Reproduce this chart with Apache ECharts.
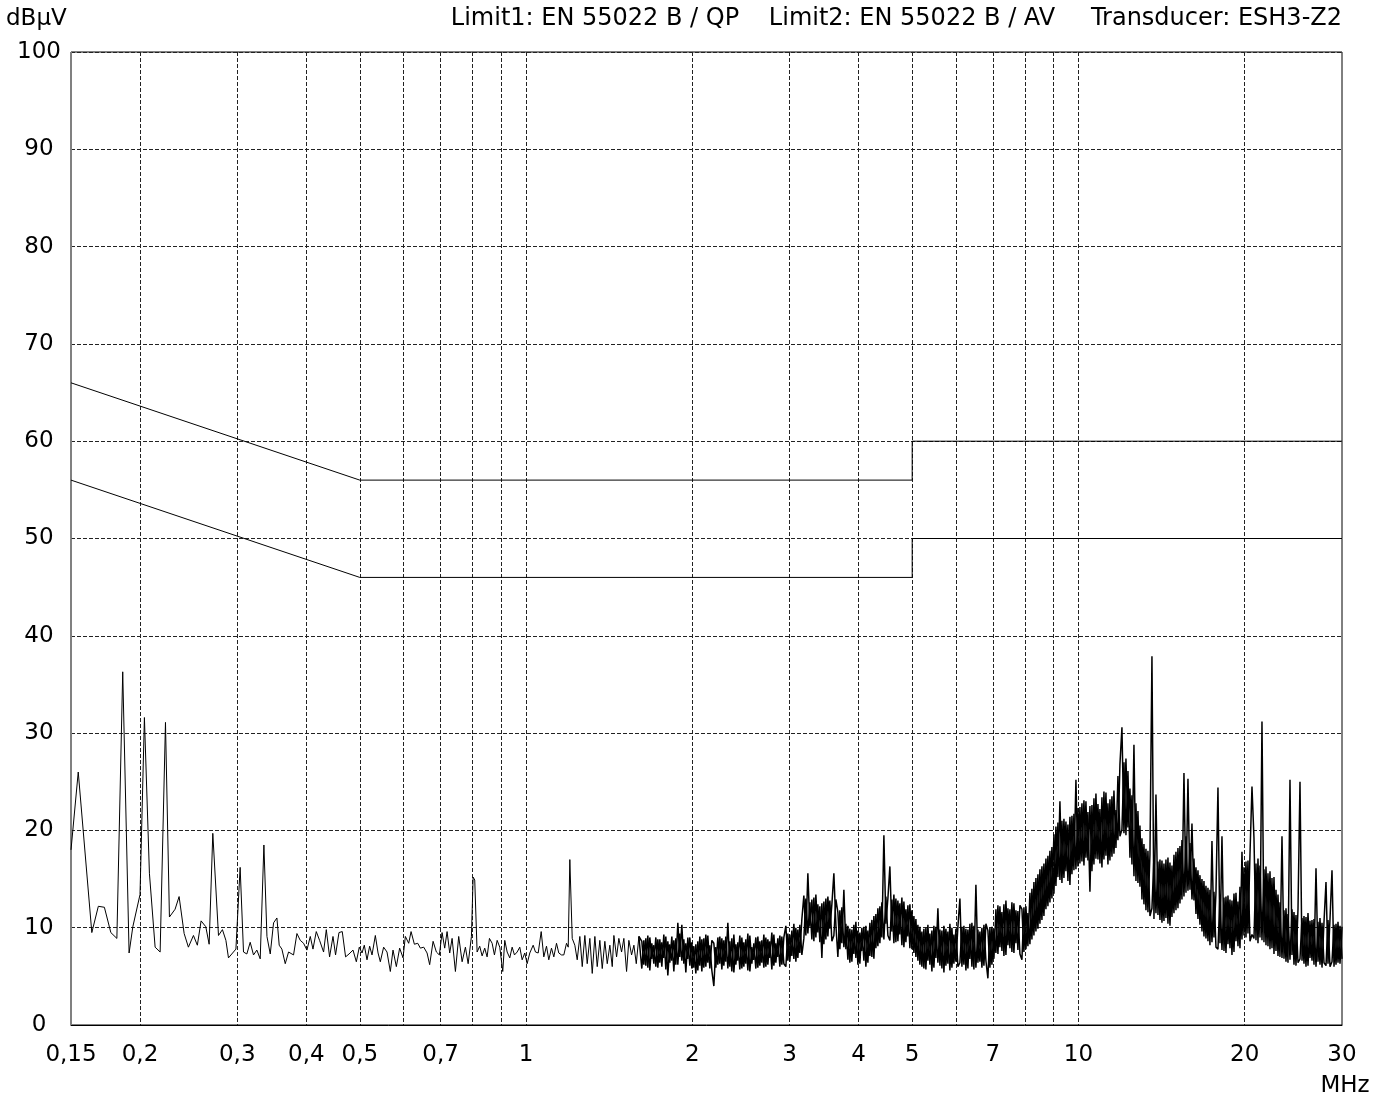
<!DOCTYPE html>
<html>
<head>
<meta charset="utf-8">
<script src="https://cdn.jsdelivr.net/npm/echarts@6/dist/echarts.min.js"></script>
<style>
html,body{margin:0;padding:0;background:#fff;}
#chart{width:1387px;height:1099px;}
</style>
</head>
<body>
<div id="chart"></div>
<script>
// ---- axis ticks / labels ----
const xLabelValues = [0.15, 0.2, 0.3, 0.4, 0.5, 0.7, 1, 2, 3, 4, 5, 7, 10, 20, 30];
const xGridValues = [0.2, 0.3, 0.4, 0.5, 0.6, 0.7, 0.8, 0.9, 1, 2, 3, 4, 5, 6, 7, 8, 9, 10, 20];
const yMin = 0, yMax = 100, yStep = 10;

// ---- header texts ----
const unitY = 'dBµV';
const unitX = 'MHz';
const headerTexts = ['Limit1: EN 55022 B / QP', 'Limit2: EN 55022 B / AV', 'Transducer: ESH3-Z2'];

// ---- limit lines [MHz, dBµV] ----
const limitQP = [[0.15, 66], [0.5, 56], [5, 56], [5, 60], [30, 60]];
const limitAV = [[0.15, 56], [0.5, 46], [5, 46], [5, 50], [30, 50]];

// ---- measured trace, low band (individual sweep points) ----
const lowSweepMHz = [
0.1500,0.1546,0.1636,0.1681,0.1724,0.1771,0.1816,0.1861,0.1911,0.1941,
0.2000,0.2037,0.2080,0.2130,0.2175,0.2224,0.2261,0.2315,0.2354,0.2404,
0.2447,0.2499,0.2540,0.2580,0.2631,0.2668,0.2709,0.2774,0.2820,0.2861,
0.2892,0.2983,0.3036,0.3079,0.3122,0.3166,0.3210,0.3255,0.3301,0.3352,
0.3395,0.3442,0.3490,0.3539,0.3573,0.3613,0.3664,0.3715,0.3793,0.3847,
0.3901,0.3955,0.4011,0.4067,0.4113,0.4170,0.4228,0.4299,0.4348,0.4408,
0.4471,0.4519,0.4584,0.4647,0.4712,0.4780,0.4860,0.4928,0.4989,
0.5046,0.5094,0.5152,0.5209,0.5261,0.5334,0.5395,0.5446,0.5522,0.5600,
0.5678,0.5742,0.5822,0.5903,0.5987,0.6045,0.6130,0.6191,0.6277,0.6365,
0.6436,0.6526,0.6618,0.6690,0.6786,0.6880,0.6966,0.7045,0.7123,0.7194,
0.7273,0.7346,0.7448,0.7551,0.7659,0.7765,0.7854,0.7962,0.8019,0.8073,
0.8153,0.8242,0.8325,0.8416,0.8500,0.8583,0.8680,0.8764,0.8863,0.8960,
0.9073,0.9149,0.9241,0.9342,0.9435,0.9527,0.9634,0.9740,0.9837,0.9945,
1.0044,1.0155,1.0300,1.0399,1.0517,1.0650,1.0766,1.0888,1.0992,1.1117,
1.1225,1.1352,1.1460,1.1591,1.1703,1.1836,1.1920,1.2000,1.2120,1.2253,
1.2375,1.2511,1.2637,1.2775,1.2902,1.3044,1.3175,1.3320,1.3452,1.3599,
1.3736,1.3886,1.4025,1.4179,1.4321,1.4419,1.4581,1.4721,1.4888,1.5032,
1.5202,1.5348,1.5523,1.5674,1.5830,1.6003
];
const lowSweepLevel = [
18.0,26.0,9.5,12.2,12.1,9.5,8.9,36.3,7.4,10.1,
13.4,31.6,15.6,8.0,7.5,31.1,11.1,11.9,13.2,9.4,
8.0,9.2,8.2,10.7,10.1,8.3,19.7,9.2,9.8,8.7,
6.9,7.8,16.2,7.5,7.3,8.5,7.2,7.7,6.8,18.5,
9.1,7.3,10.5,11.0,8.2,7.8,6.3,7.5,7.2,9.4,
8.7,8.4,7.7,9.1,7.8,9.6,8.7,7.5,9.8,7.0,
9.1,7.2,9.5,9.6,7.0,7.3,7.7,6.5,8.0,
7.4,8.2,6.7,8.1,7.2,9.2,7.4,6.5,8.0,7.5,
5.5,7.7,6.0,7.9,6.9,9.1,8.4,9.6,8.3,8.4,
7.9,8.0,7.4,6.2,8.6,7.5,7.2,9.5,7.9,9.6,
7.4,8.9,5.5,9.1,6.5,8.0,6.3,9.1,15.2,14.9,
7.5,8.1,7.1,7.9,7.0,8.9,8.4,7.2,8.7,8.0,
5.5,8.7,7.5,6.9,8.0,7.2,7.5,8.0,6.7,7.4,
6.3,7.4,8.2,7.5,7.4,9.6,7.0,8.1,6.7,7.9,
7.0,8.4,7.4,7.2,7.2,8.4,8.0,17.0,8.9,8.2,
6.7,9.1,6.0,9.2,6.3,8.9,5.3,9.1,6.0,8.7,
5.8,8.6,6.3,8.2,6.0,9.2,7.0,8.9,7.5,8.9,
5.5,8.7,7.2,8.2,6.3,9.1
];

// ---- measured trace, dense band: two interleaved readings on a log-spaced grid ----
const denseStartMHz = 1.62;
const denseStopMHz = 30;
const denseLevel = [
8.6,6.2,8.9,5.9,9.0,6.8,8.2,6.0,8.8,6.4,
8.5,6.9,9.1,5.1,8.3,6.6,8.7,6.2,10.5,7.0,
10.3,6.3,8.4,6.8,9.0,5.8,8.1,5.3,8.6,6.1,
8.8,5.9,9.3,6.4,8.2,5.6,4.0,8.0,6.2,9.1,
5.7,8.7,6.5,10.5,6.0,8.9,5.4,8.3,6.6,9.2,
5.8,8.5,6.3,9.4,5.5,8.0,6.7,9.0,5.9,8.6,
6.4,9.3,6.0,8.8,6.9,9.5,6.1,8.4,7.0,9.2,
6.2,9.0,10.2,6.6,9.3,7.1,10.4,6.5,9.8,7.4,
10.9,13.3,9.2,15.6,10.1,12.9,8.6,13.4,9.5,12.2,
6.9,12.7,8.8,13.2,9.9,12.4,15.6,10.3,7.0,11.8,
8.4,13.9,7.8,10.2,6.4,9.8,7.3,10.6,6.2,9.5,
7.6,10.1,6.0,9.7,7.1,10.8,6.8,11.4,8.1,12.2,
9.0,19.5,10.4,13.0,16.3,9.6,13.4,8.5,12.8,9.3,
13.1,8.0,11.9,9.1,12.4,7.8,11.2,7.0,10.3,6.2,
9.6,5.8,10.0,6.6,9.4,5.5,10.2,6.9,12.0,6.1,
9.7,5.4,9.9,6.3,10.4,5.9,9.3,6.5,10.1,13.0,
6.0,10.2,5.6,9.8,6.8,10.5,5.7,14.4,6.4,9.6,
5.9,10.3,6.6,4.8,10.0,6.2,9.9,7.4,12.3,8.0,
11.6,7.1,12.8,8.2,11.9,7.5,12.5,8.4,11.7,7.3,
6.7,12.1,7.8,11.5,8.3,14.0,9.2,15.1,9.9,16.0,
10.8,16.6,11.9,17.4,12.6,18.3,13.5,20.4,15.2,23.0,
14.6,21.2,15.8,20.6,14.4,21.5,15.9,25.2,16.3,22.4,
16.8,23.1,17.2,21.9,13.7,22.6,16.5,23.8,17.0,22.2,
16.2,24.0,17.4,22.8,16.9,23.5,17.6,22.1,19.0,26.8,
30.6,19.7,27.4,20.3,24.3,16.5,28.8,14.8,22.0,14.2,
19.2,12.4,18.1,11.6,17.5,37.9,10.9,23.7,11.3,17.0,
10.5,16.6,11.0,17.2,10.2,16.4,11.5,17.8,12.0,18.4,
12.9,25.9,13.6,25.3,13.9,20.7,12.8,16.2,10.9,15.4,
9.6,14.8,8.9,14.1,8.2,18.9,9.0,13.6,24.4,8.4,
19.4,7.6,13.2,8.3,12.9,7.2,13.5,8.6,12.7,7.9,
17.8,9.2,16.8,9.4,17.5,24.5,19.2,8.7,17.1,9.0,
31.2,8.5,16.3,8.1,15.8,7.9,15.2,7.6,13.4,7.0,
19.4,6.8,12.0,6.4,25.2,7.2,11.6,6.1,11.9,25.0,
6.6,11.2,6.0,11.5,6.9,10.8,6.2,16.1,6.5,11.0,
5.9,10.6,14.7,6.3,10.9,15.9,6.0,10.4,6.4,10.2,
6.8
];
const denseLevel2 = [
5.8,8.7,6.1,9.2,5.6,8.4,6.3,9.0,5.9,8.8,
6.0,9.3,5.7,8.6,6.4,9.1,5.5,8.9,6.2,9.4,
6.6,8.8,5.4,9.0,6.1,8.5,5.9,8.3,5.6,9.1,
5.5,8.9,6.0,9.2,5.8,8.7,8.4,5.9,9.0,6.3,
8.9,6.1,9.1,5.8,8.6,5.5,9.3,6.2,8.5,5.7,
9.0,6.0,8.8,5.6,9.2,6.3,8.4,5.8,9.1,6.1,
8.7,5.9,9.0,6.2,8.6,5.7,9.3,6.4,8.9,6.0,
9.1,6.3,6.0,9.4,6.5,9.7,6.8,10.0,6.9,10.3,
7.2,8.9,13.0,9.4,12.6,8.8,13.1,9.0,12.4,8.5,
12.5,8.3,13.0,9.1,12.8,8.6,9.2,12.9,11.6,7.8,
12.1,8.0,10.4,6.7,9.9,6.5,10.3,6.9,9.7,6.3,
10.0,6.6,10.2,6.4,10.5,7.0,11.2,7.9,12.0,8.4,
12.6,8.8,13.2,9.2,8.7,12.9,8.4,13.0,8.6,12.5,
8.2,12.7,8.5,12.3,7.9,11.8,7.4,10.9,6.6,10.1,
6.0,9.9,5.7,10.3,6.2,9.7,5.9,10.1,6.4,9.8,
5.8,10.2,6.1,9.6,5.6,10.0,6.3,9.9,6.0,6.4,
10.1,6.2,9.9,5.8,10.4,6.0,10.2,5.9,9.8,6.5,
10.0,6.1,10.4,9.7,5.9,10.1,6.8,11.9,7.3,12.2,
7.6,12.4,7.2,12.0,7.9,12.6,7.4,11.8,7.7,12.3,
11.9,7.5,12.2,8.1,13.6,8.8,14.7,9.6,15.5,10.4,
16.3,11.2,17.1,12.2,17.9,13.0,19.6,14.3,20.8,14.9,
21.0,15.1,20.9,14.8,21.4,15.5,21.7,16.0,22.3,16.6,
22.8,16.4,23.0,16.9,22.5,15.8,23.3,17.1,22.7,16.6,
23.4,17.0,23.9,16.5,23.2,17.3,24.1,18.2,25.6,19.4,
20.1,27.0,19.5,26.1,17.2,23.6,15.3,22.8,14.6,20.5,
12.9,18.6,11.8,17.9,11.2,12.0,17.3,11.5,16.8,10.8,
16.9,10.7,17.0,10.4,16.7,11.1,17.5,11.8,18.2,12.5,
19.0,13.2,19.4,13.8,18.7,12.9,17.1,11.4,15.9,10.3,
15.0,9.1,14.3,8.6,13.9,8.5,13.7,8.0,7.8,13.4,
7.7,13.1,7.4,13.3,7.9,12.8,7.5,13.6,8.1,14.2,
8.8,16.2,9.0,16.9,8.6,9.3,8.9,16.6,8.4,16.4,
8.7,16.0,8.2,15.6,7.8,15.1,7.3,13.9,7.1,12.6,
6.9,11.8,6.5,11.4,6.7,11.9,6.2,11.3,6.4,6.8,
11.0,6.3,11.1,6.1,10.7,6.6,10.9,6.0,10.6,6.2,
10.5,6.4,6.1,10.8,6.0,6.5,10.3,6.2,10.6,6.3,
10.1
];

// ---- build series data ----
const lowData = lowSweepMHz.map((f, i) => [f, lowSweepLevel[i]]);
const denseFreq = (k, n) => denseStartMHz * Math.pow(denseStopMHz / denseStartMHz, k / (n - 1));
const denseData = [lowData[lowData.length - 1]].concat(denseLevel.map((v, k) => [denseFreq(k, denseLevel.length), v]));
const denseData2 = [lowData[lowData.length - 1]].concat(denseLevel2.map((v, k) => [denseFreq(k, denseLevel2.length), v]));

const FONT = 'DejaVu Sans';
const FS = 23;
const gridDash = { color: '#222', type: [4, 2], width: 1 };
const decimalComma = v => String(+v.toFixed(3)).replace('.', ',');
const txt = (x, y, text, align, size) => ({
  type: 'text', x: x, y: y, silent: true,
  style: { text: text, font: size + 'px "' + FONT + '"', fill: '#000', align: align, verticalAlign: 'middle' }
});
const traceSeries = (name, data, width) => ({
  name: name, type: 'line', data: data, showSymbol: false, silent: true,
  lineStyle: { color: '#000', width: width, join: 'bevel' }
});

const chart = echarts.init(document.getElementById('chart'), null, { renderer: 'canvas' });
chart.setOption({
  animation: false,
  backgroundColor: '#fff',
  grid: { left: 71, right: 45, top: 52, bottom: 74, show: true, borderColor: '#000', borderWidth: 1, backgroundColor: 'transparent', containLabel: false },
  xAxis: {
    type: 'log', logBase: 10, min: 0.15, max: 30,
    axisLine: { show: true, lineStyle: { color: '#000', width: 1 } },
    axisTick: { show: false, customValues: xGridValues },
    axisLabel: { customValues: xLabelValues, formatter: decimalComma, fontFamily: FONT, fontSize: FS, color: '#000', margin: 19 },
    splitLine: { show: true, lineStyle: gridDash },
    minorTick: { show: false }, minorSplitLine: { show: false }
  },
  yAxis: {
    type: 'value', min: yMin, max: yMax, interval: yStep,
    axisLine: { show: true, lineStyle: { color: '#808080', width: 1 } },
    axisTick: { show: false },
    axisLabel: { align: 'center', margin: 32, fontFamily: FONT, fontSize: FS, color: '#000' },
    splitLine: { show: true, lineStyle: gridDash }
  },
  graphic: [
    txt(6, 19, unitY, 'left', FS),
    txt(595, 19, headerTexts[0], 'center', 24),
    txt(912, 19, headerTexts[1], 'center', 24),
    txt(1342, 19, headerTexts[2], 'right', 24),
    txt(1345, 1086, unitX, 'center', FS)
  ],
  series: [
    traceSeries('QP', limitQP, 1),
    traceSeries('AV', limitAV, 1),
    traceSeries('trace-low', lowData, 1),
    traceSeries('trace-dense', denseData, 1.5),
    traceSeries('trace-dense-2', denseData2, 1.5)
  ]
});
</script>
</body>
</html>
